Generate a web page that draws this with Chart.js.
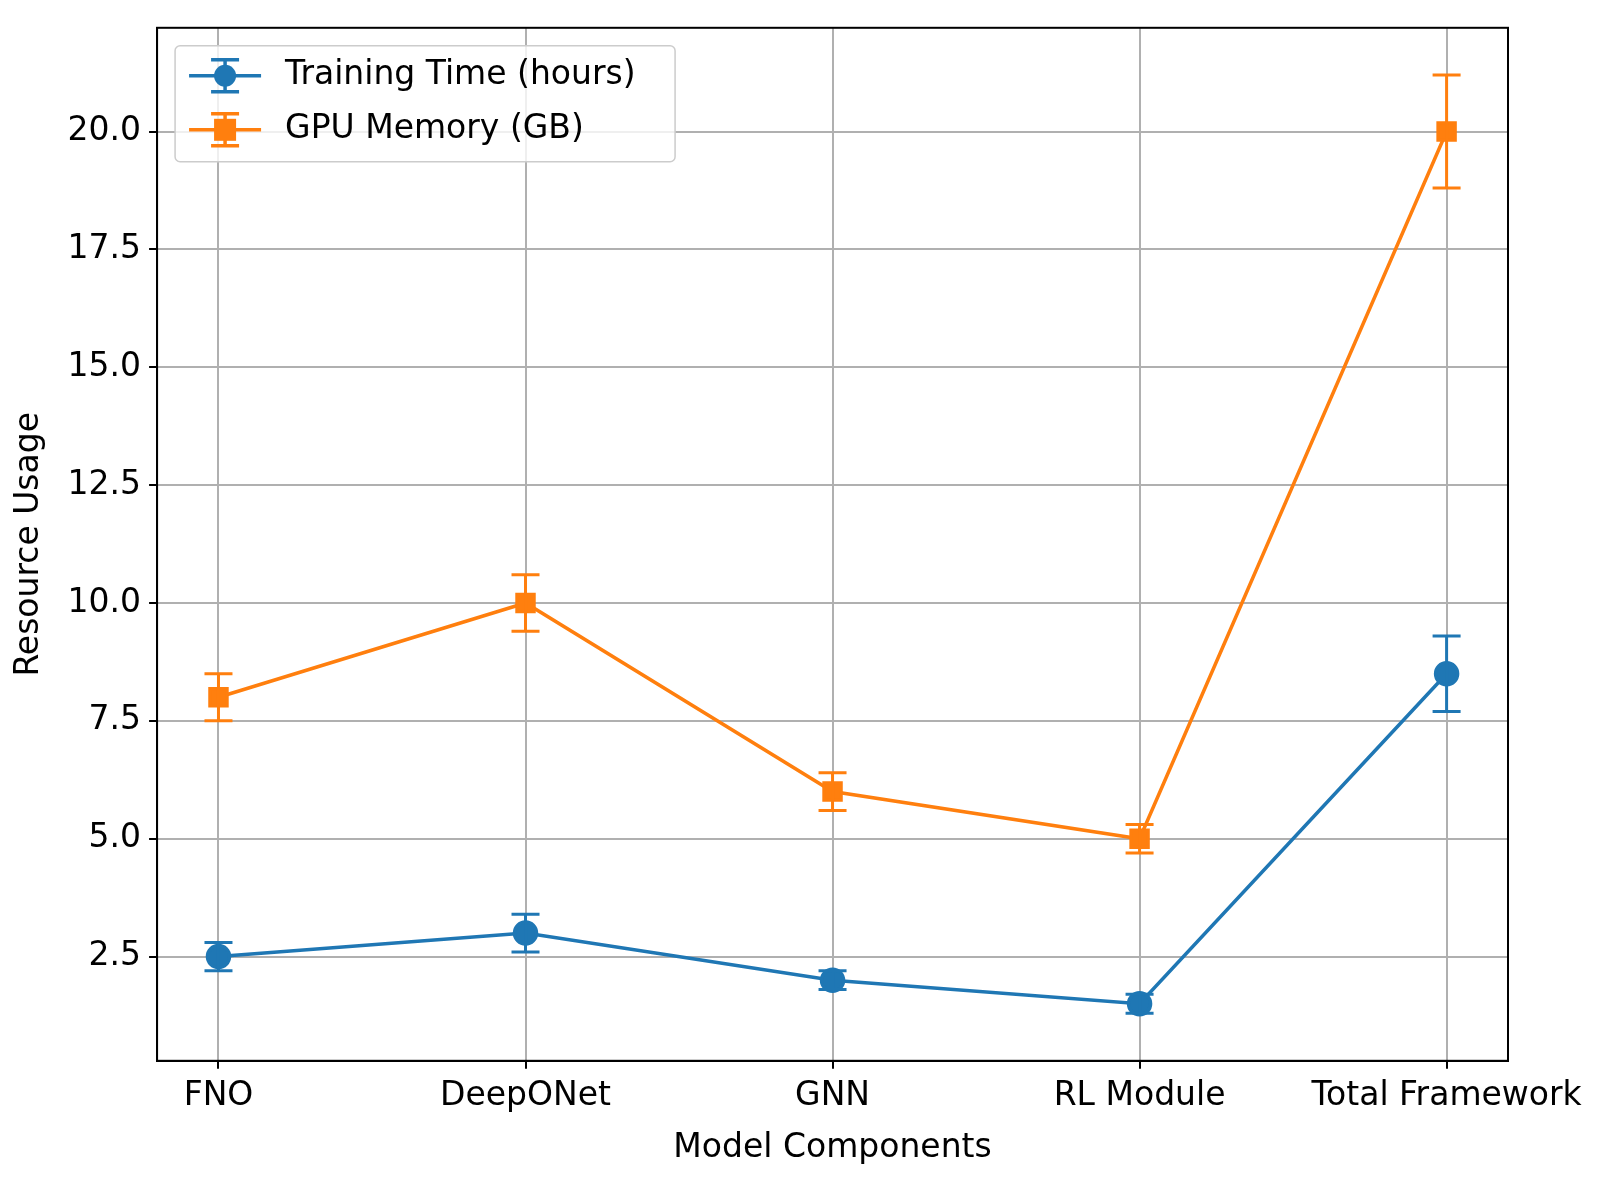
<!DOCTYPE html>
<html><head><meta charset="utf-8">
<script src="https://cdn.jsdelivr.net/npm/chart.js@4"></script>
<style>html,body{margin:0;background:#fff}#wrap{width:1608px;height:1192px}</style>
</head><body><div id="wrap"><canvas id="c"></canvas></div>
<script>
var categories = ['FNO', 'DeepONet', 'GNN', 'RL Module', 'Total Framework'];
var trainingTime = [2.5, 3.0, 2.0, 1.5, 8.5];
var trainingErr = [0.3, 0.4, 0.2, 0.2, 0.8];
var gpuMemory = [8, 10, 6, 5, 20];
var gpuErr = [0.5, 0.6, 0.4, 0.3, 1.2];
var yTicks = [2.5, 5.0, 7.5, 10.0, 12.5, 15.0, 17.5, 20.0];

var BLUE = '#1f77b4', ORANGE = '#ff7f0e';
var FONT = 'DejaVu Sans';

function pts(vals) { return vals.map(function (v, i) { return {x: i, y: v}; }); }

// error bars drawn through the chart scales
var errorBars = {
  id: 'errorBars',
  afterDatasetsDraw: function (chart) {
    var ctx = chart.ctx, xs = chart.scales.x, ys = chart.scales.y;
    chart.data.datasets.forEach(function (ds) {
      ctx.save();
      ctx.strokeStyle = ds.borderColor;
      ctx.lineWidth = 3;
      ds.data.forEach(function (p, i) {
        var x = xs.getPixelForValue(p.x);
        var t = ys.getPixelForValue(p.y + ds.err[i]);
        var b = ys.getPixelForValue(p.y - ds.err[i]);
        ctx.beginPath();
        ctx.moveTo(x, t); ctx.lineTo(x, b);
        ctx.moveTo(x - 14, t); ctx.lineTo(x + 14, t);
        ctx.moveTo(x - 14, b); ctx.lineTo(x + 14, b);
        ctx.stroke();
      });
      ctx.restore();
    });
  }
};

// matplotlib-style legend box inside the plot area
var boxLegend = {
  id: 'boxLegend',
  afterDraw: function (chart) {
    var ctx = chart.ctx, a = chart.chartArea;
    var x0 = a.left + 18, y0 = a.top + 18, w = 500, h = 116;
    ctx.save();
    ctx.fillStyle = 'rgba(255,255,255,0.8)';
    ctx.strokeStyle = '#cccccc';
    ctx.lineWidth = 1.5;
    ctx.beginPath();
    ctx.roundRect(x0, y0, w, h, 5);
    ctx.fill(); ctx.stroke();
    ctx.font = '33px "' + FONT + '"';
    ctx.textBaseline = 'middle';
    chart.data.datasets.forEach(function (ds, i) {
      var cy = y0 + 30 + i * 54, cx = x0 + 50;
      ctx.strokeStyle = ds.borderColor; ctx.fillStyle = ds.borderColor;
      ctx.lineWidth = 3.5;
      ctx.beginPath();
      ctx.moveTo(cx - 36, cy); ctx.lineTo(cx + 36, cy);
      ctx.moveTo(cx, cy - 16); ctx.lineTo(cx, cy + 16);
      ctx.moveTo(cx - 14, cy - 16); ctx.lineTo(cx + 14, cy - 16);
      ctx.moveTo(cx - 14, cy + 16); ctx.lineTo(cx + 14, cy + 16);
      ctx.stroke();
      if (i === 0) { ctx.beginPath(); ctx.arc(cx, cy, 11, 0, Math.PI * 2); ctx.fill(); }
      else ctx.fillRect(cx - 11, cy - 11, 22, 22);
      ctx.fillStyle = '#000';
      ctx.fillText(ds.label, x0 + 110, cy);
    });
    ctx.restore();
  }
};

new Chart(document.getElementById('c'), {
  type: 'line',
  data: {
    datasets: [
      {label: 'Training Time (hours)', data: pts(trainingTime), err: trainingErr,
       borderColor: BLUE, backgroundColor: BLUE, borderWidth: 3.5,
       pointStyle: 'circle', pointRadius: 11, pointHoverRadius: 11},
      {label: 'GPU Memory (GB)', data: pts(gpuMemory), err: gpuErr,
       borderColor: ORANGE, backgroundColor: ORANGE, borderWidth: 3.5,
       pointStyle: 'rect', pointRadius: 12, pointHoverRadius: 12}
    ]
  },
  options: {
    responsive: true,
    maintainAspectRatio: false,
    animation: false,
    layout: {padding: {top: 0, right: 100, bottom: 20, left: 6}},
    plugins: {legend: {display: false}, tooltip: {enabled: false}},
    scales: {
      x: {
        type: 'linear', min: -0.2, max: 4.2,
        afterBuildTicks: function (ax) { ax.ticks = categories.map(function (c, i) { return {value: i}; }); },
        ticks: {callback: function (v) { return categories[v]; }, color: '#000',
                font: {family: FONT, size: 33}, maxRotation: 0, autoSkip: false, padding: 8},
        grid: {color: '#b0b0b0', lineWidth: 2, drawTicks: true, tickLength: 8, tickColor: '#000'},
        border: {color: '#000', width: 2},
        title: {display: true, text: 'Model Components', color: '#000',
                font: {family: FONT, size: 33}, padding: {top: 4}}
      },
      y: {
        min: 0.29, max: 22.2,
        afterBuildTicks: function (ax) { ax.ticks = yTicks.map(function (v) { return {value: v}; }); },
        ticks: {callback: function (v) { return v.toFixed(1); }, color: '#000',
                font: {family: FONT, size: 33}, padding: 8},
        grid: {color: '#b0b0b0', lineWidth: 2, tickLength: 8, tickColor: '#000'},
        border: {color: '#000', width: 2},
        title: {display: true, text: 'Resource Usage', color: '#000',
                font: {family: FONT, size: 33}, padding: {bottom: 10}}
      }
    }
  },
  plugins: [errorBars, boxLegend, {
    id: 'frame',
    afterDraw: function (chart) {
      var a = chart.chartArea, ctx = chart.ctx;
      ctx.save(); ctx.strokeStyle = '#000'; ctx.lineWidth = 2;
      ctx.strokeRect(a.left, a.top, a.right - a.left, a.bottom - a.top);
      ctx.restore();
    }
  }]
});
</script></body></html>
